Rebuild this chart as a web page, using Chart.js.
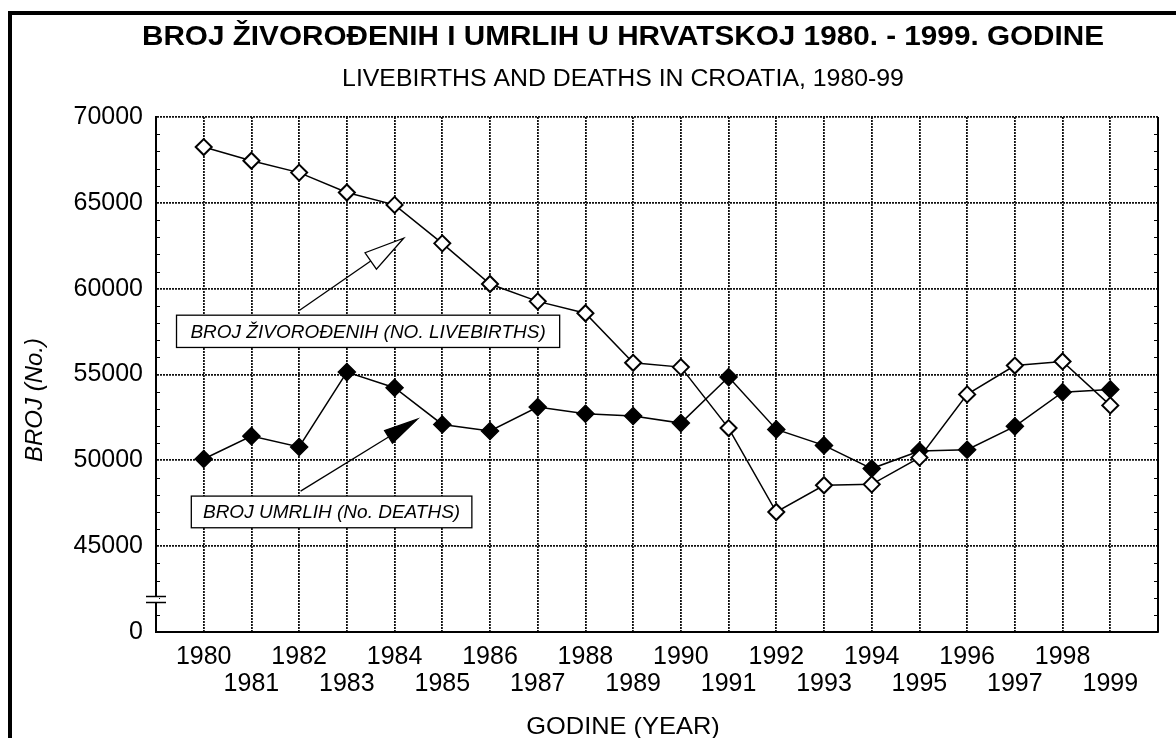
<!DOCTYPE html>
<html>
<head>
<meta charset="utf-8">
<script src="https://cdn.jsdelivr.net/npm/chart.js@4/dist/chart.umd.min.js"></script>
<style>
  html, body { margin: 0; padding: 0; background: #fff; overflow: hidden; }
  #wrap { position: relative; width: 1176px; height: 738px; }
  #frame { position: absolute; left: 8px; top: 11px; width: 1300px; height: 900px; border: 4px solid #000; pointer-events: none; }
</style>
</head>
<body>
<div id="wrap">
  <canvas id="chart" width="1176" height="738"></canvas>
  <div id="frame"></div>
</div>
<script>
// Years on the x axis
const years = [1980, 1981, 1982, 1983, 1984, 1985, 1986, 1987, 1988, 1989,
               1990, 1991, 1992, 1993, 1994, 1995, 1996, 1997, 1998, 1999];

// Live births (hollow diamonds) and deaths (filled diamonds)
const livebirths = [68250, 67450, 66760, 65600, 64880, 62640, 60270, 59260, 58570, 55680,
                    55430, 51880, 46990, 48550, 48600, 50160, 53840, 55520, 55760, 53200];
const deaths = [50080, 51410, 50780, 55140, 54230, 52090, 51710, 53100, 52710, 52580,
                52170, 54850, 51800, 50870, 49520, 50540, 50620, 51980, 53970, 54130];

// Y axis: broken axis, bottom tick stands for 0
const yMin = 40000;
const yMax = 70000;
const yStep = 5000;
const yBreakAt = 41900;

const titleText = "BROJ ŽIVOROĐENIH I UMRLIH U HRVATSKOJ 1980. - 1999. GODINE";
const subtitleText = "LIVEBIRTHS AND DEATHS IN CROATIA, 1980-99";
const xTitleText = "GODINE (YEAR)";
const yTitleText = "BROJ (No.)";

// Callout boxes with arrows, in data units
const callouts = [
  { text: "BROJ ŽIVOROĐENIH (NO. LIVEBIRTHS)", box: [1979.43, 58455, 1987.46, 56575],
    from: [1982.01, 58747], to: [1984.19, 62938], filled: false, headLen: 40, headHalf: 10 },
  { text: "BROJ UMRLIH (No. DEATHS)", box: [1979.74, 47917, 1985.62, 46072],
    from: [1982.03, 48209], to: [1984.48, 52400], filled: true, headLen: 34, headHalf: 7.5 }
];

const FONT = '"Liberation Sans", Arial, Helvetica, sans-serif';

// Minor ticks, axis break, right border
const axisExtras = {
  id: "axisExtras",
  afterDatasetsDraw(chart) {
    const { ctx, chartArea: a, scales: { y } } = chart;
    ctx.save();
    ctx.strokeStyle = "#000";
    ctx.lineWidth = 2;
    ctx.beginPath();
    ctx.moveTo(a.right, a.top);
    ctx.lineTo(a.right, a.bottom);
    ctx.stroke();
    ctx.lineWidth = 1;
    ctx.beginPath();
    for (let v = yMin + 1000; v < yMax; v += 1000) {
      if (v % yStep === 0) continue;
      const py = Math.round(y.getPixelForValue(v)) + 0.5;
      ctx.moveTo(a.left, py); ctx.lineTo(a.left + 4, py);
      ctx.moveTo(a.right, py); ctx.lineTo(a.right - 4, py);
    }
    ctx.stroke();
    // break mark on the y axis
    const by = y.getPixelForValue(yBreakAt);
    ctx.fillStyle = "#fff";
    ctx.fillRect(a.left - 3, by - 3, 6, 6);
    ctx.lineWidth = 1.5;
    ctx.beginPath();
    ctx.moveTo(a.left - 10, by - 3); ctx.lineTo(a.left + 10, by - 3);
    ctx.moveTo(a.left - 10, by + 3); ctx.lineTo(a.left + 10, by + 3);
    ctx.stroke();
    ctx.restore();
  }
};

// Labelled boxes with arrows pointing at the series
const calloutPlugin = {
  id: "callouts",
  afterDatasetsDraw(chart) {
    const { ctx, scales: { x, y } } = chart;
    ctx.save();
    callouts.forEach(c => {
      const x0 = x.getPixelForValue(c.from[0]), y0 = y.getPixelForValue(c.from[1]);
      const x1 = x.getPixelForValue(c.to[0]), y1 = y.getPixelForValue(c.to[1]);
      const ang = Math.atan2(y1 - y0, x1 - x0);
      const bx = x1 - Math.cos(ang) * c.headLen, by = y1 - Math.sin(ang) * c.headLen;
      const px = -Math.sin(ang) * c.headHalf, py = Math.cos(ang) * c.headHalf;
      ctx.strokeStyle = "#000";
      ctx.lineWidth = 1.3;
      ctx.beginPath();
      ctx.moveTo(x0, y0);
      ctx.lineTo(bx, by);
      ctx.stroke();
      ctx.beginPath();
      ctx.moveTo(x1, y1);
      ctx.lineTo(bx + px, by + py);
      ctx.lineTo(bx - px, by - py);
      ctx.closePath();
      ctx.fillStyle = c.filled ? "#000" : "#fff";
      ctx.fill();
      ctx.stroke();

      const l = x.getPixelForValue(c.box[0]), t = y.getPixelForValue(c.box[1]);
      const r = x.getPixelForValue(c.box[2]), b = y.getPixelForValue(c.box[3]);
      ctx.fillStyle = "#fff";
      ctx.fillRect(l, t, r - l, b - t);
      ctx.lineWidth = 1.3;
      ctx.strokeRect(l, t, r - l, b - t);
      ctx.fillStyle = "#000";
      ctx.font = "italic 19px " + FONT;
      ctx.textAlign = "center";
      ctx.textBaseline = "middle";
      ctx.fillText(c.text, (l + r) / 2, (t + b) / 2 + 1);
    });
    ctx.restore();
  }
};

// text drawn a little wider, like the original lettering
function wideText(ctx, text, font, x, y, stretch) {
  ctx.save();
  ctx.font = font;
  ctx.translate(x, y);
  ctx.scale(stretch, 1);
  ctx.fillText(text, 0, 0);
  ctx.restore();
}

// Titles, drawn centred on the framed figure rather than the plot
const titles = {
  id: "titles",
  afterDraw(chart) {
    const { ctx } = chart;
    ctx.save();
    ctx.fillStyle = "#000";
    ctx.textAlign = "center";
    ctx.textBaseline = "alphabetic";
    wideText(ctx, titleText, "bold 27px " + FONT, 623, 45, 1.1);
    wideText(ctx, subtitleText, "23px " + FONT, 623, 86, 1.08);
    wideText(ctx, xTitleText, "24px " + FONT, 623, 734, 1.06);
    ctx.translate(42, 400);
    ctx.rotate(-Math.PI / 2);
    ctx.font = "italic 24px " + FONT;
    ctx.fillText(yTitleText, 0, 0);
    ctx.restore();
  }
};

const gridStyle = { color: "#111", lineWidth: 1.8, drawTicks: false };
const borderStyle = { color: "#000", width: 2, dash: [2, 1] };

new Chart(document.getElementById("chart"), {
  type: "line",
  data: {
    datasets: [
      {
        label: "Živorođeni",
        data: years.map((yr, i) => ({ x: yr, y: livebirths[i] })),
        borderColor: "#000",
        borderWidth: 1.5,
        pointStyle: "rectRot",
        pointRadius: 8,
        pointBorderWidth: 2,
        pointBackgroundColor: "#fff",
        pointBorderColor: "#000",
        tension: 0
      },
      {
        label: "Umrli",
        data: years.map((yr, i) => ({ x: yr, y: deaths[i] })),
        borderColor: "#000",
        borderWidth: 1.5,
        pointStyle: "rectRot",
        pointRadius: 8.5,
        pointBorderWidth: 1.5,
        pointBackgroundColor: "#000",
        pointBorderColor: "#000",
        tension: 0
      }
    ]
  },
  options: {
    responsive: false,
    animation: false,
    layout: { padding: { top: 117, left: 0, right: 18, bottom: 0 } },
    plugins: {
      legend: { display: false },
      tooltip: { enabled: false }
    },
    scales: {
      x: {
        type: "linear",
        min: years[0] - 1,
        max: years[years.length - 1] + 1,
        afterBuildTicks: scale => { scale.ticks = years.map(v => ({ value: v })); },
        afterFit: scale => { scale.height = 106; },
        grid: gridStyle,
        border: borderStyle,
        ticks: {
          color: "#000",
          padding: 12,
          maxRotation: 0,
          autoSkip: false,
          font: { family: FONT, size: 25, lineHeight: 1.08 },
          callback: v => (v % 2 === 0 ? [String(v), ""] : ["", String(v)])
        }
      },
      y: {
        min: yMin,
        max: yMax,
        afterFit: scale => { scale.width = 156; },
        grid: gridStyle,
        border: borderStyle,
        ticks: {
          stepSize: yStep,
          color: "#000",
          padding: 13,
          font: { family: FONT, size: 25 },
          callback: v => (v === yMin ? "0" : String(v))
        }
      }
    }
  },
  plugins: [axisExtras, calloutPlugin, titles]
});
</script>
</body>
</html>
